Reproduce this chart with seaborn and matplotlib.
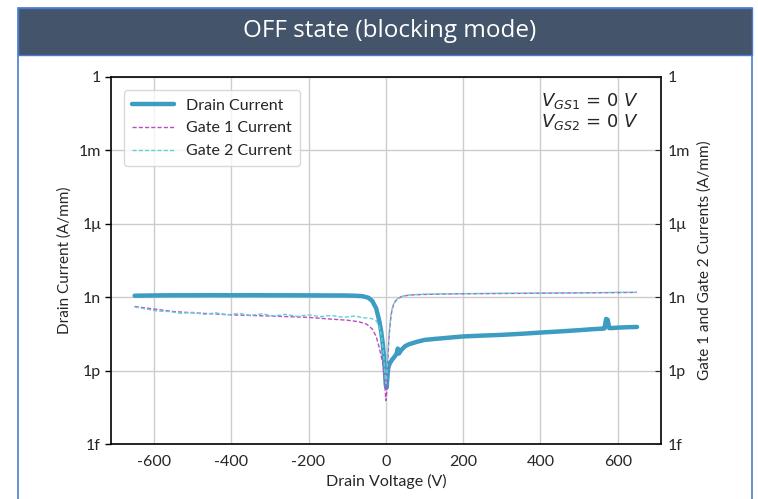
import pandas as pd
import seaborn as sns
import matplotlib.pyplot as plt
from matplotlib.patches import Rectangle

# drain current vs drain voltage (A/mm)
drain_v = [-650, -600, -550, -500, -450, -400, -350, -300, -250, -200, -150, -120, -100,
           -80, -60, -45, -35, -25, -17, -12, -8, -5, -2, 0, 2, 4, 6, 9, 12, 16, 20, 24,
           28, 31, 34, 40, 50, 60, 80, 100, 130, 160, 200, 250, 300, 350, 400, 450, 500,
           540, 560, 566, 570, 574, 578, 585, 600, 620, 650]
drain_i = [1.15e-9, 1.18e-9, 1.2e-9, 1.2e-9, 1.21e-9, 1.2e-9, 1.21e-9, 1.2e-9, 1.2e-9,
           1.19e-9, 1.18e-9, 1.18e-9, 1.17e-9, 1.15e-9, 1.1e-9, 9.5e-10, 7e-10, 3.5e-10,
           1.1e-10, 4e-11, 1.3e-11, 4e-12, 8e-13, 2.5e-13, 2e-13, 5e-13, 1.2e-12, 1.8e-12,
           2.2e-12, 2.8e-12, 3.3e-12, 4e-12, 5e-12, 8e-12, 5e-12, 7e-12, 1.0e-11, 1.2e-11,
           1.5e-11, 1.8e-11, 2.0e-11, 2.2e-11, 2.5e-11, 2.7e-11, 2.9e-11, 3.2e-11, 3.6e-11,
           4.0e-11, 4.5e-11, 5.0e-11, 5.2e-11, 5.3e-11, 1.3e-10, 1.2e-10, 5.5e-11, 5.5e-11,
           5.7e-11, 5.9e-11, 6.1e-11]

# gate 1 current
gate1_v = [-650, -620, -580, -550, -500, -450, -400, -350, -300, -250, -200, -150, -100,
           -70, -50, -35, -25, -18, -12, -8, -5, -2, 0, 2, 4, 6, 8, 10, 13, 16, 20, 25,
           30, 40, 50, 70, 100, 150, 200, 300, 400, 500, 600, 650]
gate1_i = [4.2e-10, 3.6e-10, 3.0e-10, 2.6e-10, 2.3e-10, 2.1e-10, 1.9e-10, 1.8e-10, 1.7e-10,
           1.6e-10, 1.5e-10, 1.3e-10, 1.15e-10, 1.0e-10, 8e-11, 5e-11, 2.5e-11, 1e-11,
           4e-12, 2e-12, 1e-12, 2e-13, 6e-14, 1e-13, 1e-12, 5e-12, 2e-11, 5e-11, 1.5e-10,
           3e-10, 5e-10, 7e-10, 8.5e-10, 1.05e-9, 1.15e-9, 1.25e-9, 1.3e-9, 1.35e-9,
           1.38e-9, 1.42e-9, 1.46e-9, 1.5e-9, 1.55e-9, 1.57e-9]

# gate 2 current
gate2_v = [-650, -620, -590, -560, -530, -500, -470, -440, -410, -380, -350, -320, -290,
           -260, -230, -200, -170, -140, -110, -80, -60, -45, -35, -25, -18, -12, -8, -5,
           -2, 0, 2, 4, 6, 8, 10, 13, 16, 20, 25, 30, 40, 50, 70, 100, 150, 200, 300, 400,
           500, 600, 650]
gate2_i = [4.0e-10, 3.3e-10, 2.7e-10, 2.6e-10, 2.2e-10, 2.4e-10, 2.0e-10, 2.3e-10, 1.9e-10,
           2.2e-10, 1.8e-10, 2.1e-10, 1.7e-10, 2.0e-10, 1.65e-10, 1.9e-10, 1.6e-10, 1.8e-10,
           1.5e-10, 1.7e-10, 1.45e-10, 1.4e-10, 1.3e-10, 1.1e-10, 7e-11, 3e-11, 1e-11, 3e-12,
           6e-13, 3e-13, 5e-13, 2e-12, 8e-12, 2.5e-11, 6e-11, 1.7e-10, 3.2e-10, 5.2e-10,
           7.2e-10, 8.7e-10, 1.07e-9, 1.17e-9, 1.27e-9, 1.32e-9, 1.37e-9, 1.4e-9, 1.44e-9,
           1.48e-9, 1.52e-9, 1.57e-9, 1.59e-9]

y_ticks = [1e-15, 1e-12, 1e-9, 1e-6, 1e-3, 1]
y_labels = ['1f', '1p', '1n', '1\u03bc', '1m', '1']
x_ticks = [-600, -400, -200, 0, 200, 400, 600]

sns.set_style('white')
plt.rcParams['font.family'] = ['Lato', 'DejaVu Sans']
plt.rcParams['axes.unicode_minus'] = False

fig = plt.figure(figsize=(7.58, 4.99), dpi=100)

# slide-style frame and header
fig.patches.append(Rectangle((18 / 758, -0.05), 734 / 758, 1 - 8 / 499 + 0.05,
                             transform=fig.transFigure, fill=False,
                             edgecolor='#4a7bd1', linewidth=1.2, zorder=0))
fig.patches.append(Rectangle((18 / 758, 1 - 55 / 499), 734 / 758, 47 / 499,
                             transform=fig.transFigure, facecolor='#44546a',
                             edgecolor='#4a7bd1', linewidth=1.0, zorder=0))
fig.text(390 / 758, 1 - 31 / 499, 'OFF state (blocking mode)', color='white',
         fontsize=17.5, ha='center', va='center', family=['Open Sans', 'DejaVu Sans'])

ax = fig.add_axes([0.146, 0.110, 0.726, 0.736])

df_d = pd.DataFrame({'v': drain_v, 'i': drain_i})
df_g1 = pd.DataFrame({'v': gate1_v, 'i': gate1_i})
df_g2 = pd.DataFrame({'v': gate2_v, 'i': gate2_i})

sns.lineplot(data=df_d, x='v', y='i', ax=ax, color='#3d9cc2', linewidth=3.2,
             estimator=None, sort=False, label='Drain Current', zorder=3)
sns.lineplot(data=df_g1, x='v', y='i', ax=ax, color='#b84fc0', linewidth=1.0,
             linestyle=(0, (3, 1.5)), estimator=None, sort=False,
             label='Gate 1 Current', zorder=4)
sns.lineplot(data=df_g2, x='v', y='i', ax=ax, color='#62d0d8', linewidth=1.0,
             linestyle=(0, (3, 1.5)), estimator=None, sort=False,
             label='Gate 2 Current', zorder=4)

ax.set_yscale('log')
ax.set_ylim(1e-15, 1)
ax.set_xlim(-712, 712)
ax.set_yticks(y_ticks)
ax.set_yticklabels(y_labels)
ax.minorticks_off()
ax.set_xticks(x_ticks)
ax.set_xticklabels([str(t) for t in x_ticks])
ax.grid(True, color='#cccccc', linewidth=1.0)
ax.tick_params(axis='both', labelsize=11.5, length=4, width=1, color='black')
ax.tick_params(axis='y', pad=3)
for s in ax.spines.values():
    s.set_color('black')
    s.set_linewidth(1.2)

ax.set_xlabel('Drain Voltage (V)', fontsize=11.5, labelpad=4)
ax.set_ylabel('Drain Current (A/mm)', fontsize=11, labelpad=5)

ax2 = ax.twinx()
ax2.set_yscale('log')
ax2.set_ylim(1e-15, 1)
ax2.set_yticks(y_ticks)
ax2.set_yticklabels(y_labels)
ax2.minorticks_off()
ax2.tick_params(axis='y', labelsize=11.5, direction='in', length=4, pad=5)
ax2.set_ylabel('Gate 1 and Gate 2 Currents (A/mm)', fontsize=11, labelpad=5)
for s in ax2.spines.values():
    s.set_visible(False)

ax.text(0.87, 0.905, r'$V_{GS1}$ = 0 $V$' + '\n' + r'$V_{GS2}$ = 0 $V$',
        transform=ax.transAxes, fontsize=13, ha='center', va='center',
        family=['DejaVu Sans'], linespacing=1.1)

leg = ax.legend(loc='upper left', fontsize=11.5, frameon=True, handlelength=2.6,
                borderpad=0.5, labelspacing=0.55, fancybox=True,
                bbox_to_anchor=(0.01, 0.985))
leg.get_frame().set_edgecolor('#d0d0d0')

plt.savefig('out.png', dpi=100)
